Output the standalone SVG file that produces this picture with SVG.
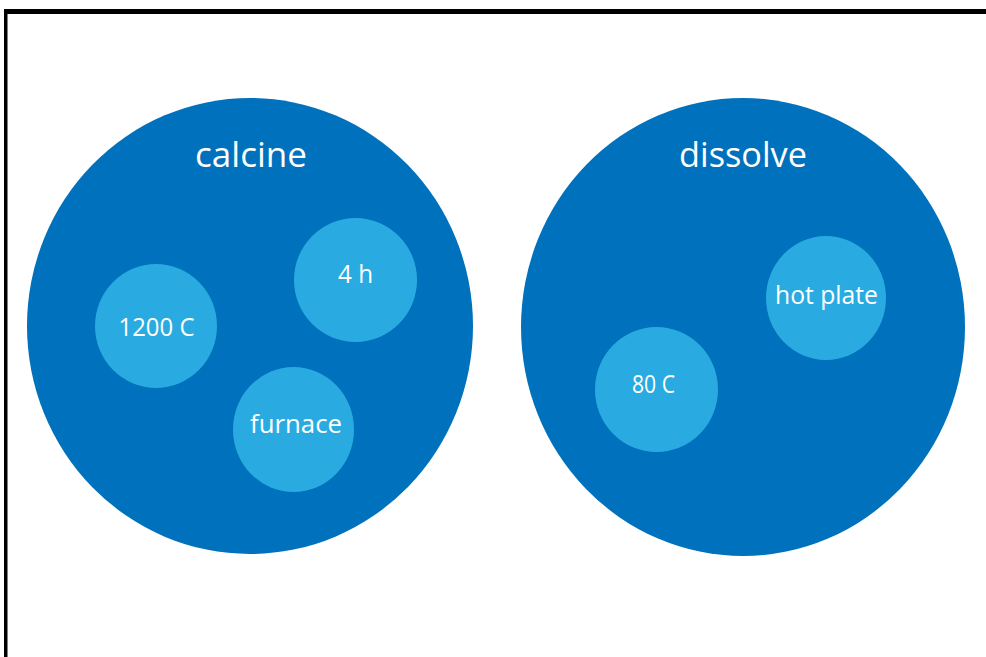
<svg xmlns="http://www.w3.org/2000/svg" width="986" height="657" viewBox="0 0 986 657">
  <style>
    .outer { fill: #0071bc; }
    .inner { fill: #29abe2; }
    .title { font-family: "Open Sans", "Noto Sans", sans-serif; font-size: 35px; fill: #ffffff; text-anchor: middle; }
    .label { font-family: "Open Sans", "Noto Sans", sans-serif; font-size: 25px; fill: #ffffff; text-anchor: middle; }
  </style>
  <rect x="0" y="0" width="986" height="657" fill="#ffffff"/>
  <g id="frame">
    <rect x="4" y="9" width="982" height="5" fill="#000000"/>
    <rect x="4" y="9" width="3.5" height="648" fill="#000000"/>
  </g>
  <g id="calcine">
    <ellipse class="outer" cx="250" cy="326" rx="223" ry="228"/>
    <text class="title" x="251" y="167" textLength="112" lengthAdjust="spacingAndGlyphs">calcine</text>
  </g>
  <g id="temp1200">
    <ellipse class="inner" cx="156" cy="326" rx="61" ry="62"/>
    <text class="label" x="156.5" y="336" textLength="76" lengthAdjust="spacingAndGlyphs">1200 C</text>
  </g>
  <g id="time4h">
    <ellipse class="inner" cx="355.5" cy="280" rx="61.5" ry="62"/>
    <text class="label" x="355.5" y="283" textLength="35" lengthAdjust="spacingAndGlyphs">4 h</text>
  </g>
  <g id="furnace">
    <ellipse class="inner" cx="293.5" cy="429.5" rx="60.5" ry="62.5"/>
    <text class="label" x="296" y="433" textLength="92" lengthAdjust="spacingAndGlyphs">furnace</text>
  </g>
  <g id="dissolve">
    <ellipse class="outer" cx="743" cy="327" rx="222" ry="229"/>
    <text class="title" x="743" y="167" textLength="128" lengthAdjust="spacingAndGlyphs">dissolve</text>
  </g>
  <g id="hotplate">
    <ellipse class="inner" cx="826" cy="298" rx="60" ry="62"/>
    <text class="label" x="826.5" y="304" textLength="103" lengthAdjust="spacingAndGlyphs">hot plate</text>
  </g>
  <g id="temp80">
    <ellipse class="inner" cx="656.5" cy="389.5" rx="61.5" ry="62.5"/>
    <text class="label" x="653.5" y="393" textLength="43" lengthAdjust="spacingAndGlyphs">80 C</text>
  </g>
  <g id="connectors"/>
</svg>
